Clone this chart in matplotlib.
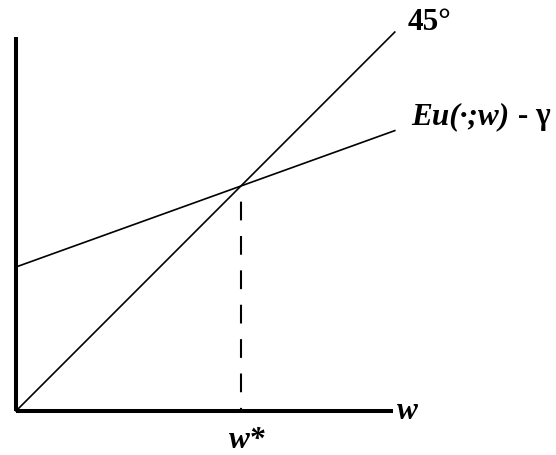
import matplotlib
matplotlib.use('Agg')
import matplotlib.pyplot as plt

# w axis in units of w* (w* = 1)
w_line = [0.0, 1.684]
line45 = [0.0, 1.684]
eu_line = [0.64, 1.246]
w_star = 1.0
w_max = 1.676
y_max = 1.662

fig = plt.figure(figsize=(5.56, 4.56), dpi=100)
ax = fig.add_axes([16 / 556, 44 / 456, 377 / 556, 374 / 456])
ax.set_xlim(0, w_max)
ax.set_ylim(0, y_max)

for s in ['top', 'right']:
    ax.spines[s].set_visible(False)
for s in ['left', 'bottom']:
    ax.spines[s].set_linewidth(2.9)
    ax.spines[s].set_capstyle('butt')
ax.set_xticks([])
ax.set_yticks([])

ax.plot(w_line, line45, color='black', lw=1.2, clip_on=False)
ax.plot(w_line, eu_line, color='black', lw=1.2, clip_on=False)
ax.plot([w_star, w_star], [w_star, 0], color='black', lw=1.5,
        linestyle=(9, (9, 7.5)))

fnt = dict(family='Liberation Serif', weight='bold', fontsize=22.5)
ax.text(1.84, 1.729, '45°', ha='center', va='center', clip_on=False, **fnt)
t = ax.text(1.758, 1.311, 'Eu(·;w)', ha='left', va='center', style='italic',
            clip_on=False, **fnt)
ax.annotate(' - γ', xy=(1, 0.5), xycoords=t, ha='left', va='center',
            annotation_clip=False, **fnt)
ax.text(1.738, 0.0, 'w', ha='center', va='center', style='italic', clip_on=False, **fnt)
ax.text(1.027, -0.125, 'w*', ha='center', va='center', style='italic', clip_on=False, **fnt)

fig.savefig('out.png', dpi=100)
